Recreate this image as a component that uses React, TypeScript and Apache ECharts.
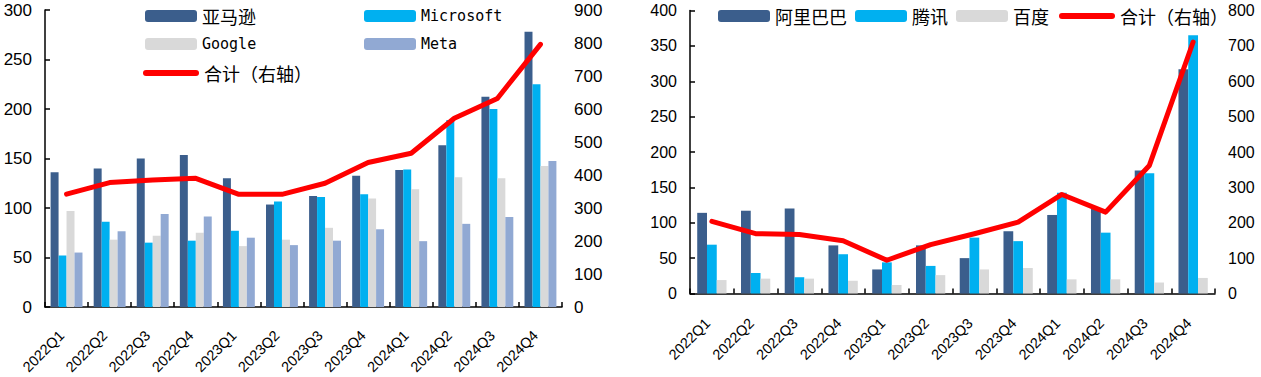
import React, { useEffect, useRef } from "react";
import * as echarts from "echarts";

const quarters = ["2022Q1", "2022Q2", "2022Q3", "2022Q4", "2023Q1", "2023Q2", "2023Q3", "2023Q4", "2024Q1", "2024Q2", "2024Q3", "2024Q4"];

const amazon = [136, 140, 150, 153.5, 130, 103.5, 112, 132.5, 138.5, 163.5, 212.5, 278];
const microsoft = [52, 86, 65, 67, 77, 106.5, 111, 114, 139, 189, 200, 225];
const google = [97, 68, 72, 75, 61.5, 68, 80, 109.5, 119, 131, 130, 142.5];
const meta = [55, 76.5, 94, 91.5, 70, 62.5, 67, 78.5, 66.5, 84, 91, 147.5];
const usTotal = [342, 377, 385, 390, 341.5, 341.5, 375, 438, 466, 572, 632, 796];

const alibaba = [114, 117, 120, 68, 34, 68, 50, 88, 111, 120, 174, 317];
const tencent = [69, 29, 23, 55.5, 44, 39, 79, 74, 142.5, 86, 170, 365];
const baidu = [19, 21, 21, 18, 12, 26, 34, 36, 20, 20, 15.5, 22];
const cnTotal = [204, 169, 167, 149, 94, 138, 169, 202, 280, 230, 362, 711];

const TOTAL = "合计（右轴）";
const C_DARK = "#3B5E8C";
const C_CYAN = "#00B0F0";
const C_GRAY = "#D9D9D9";
const C_META = "#91A9D3";
const C_RED = "#FF0000";

const AX = { color: "#000", width: 1.5 };
const LABEL_FONT = "'Liberation Sans', Arial, sans-serif";
const CJK_FONT = "'Noto Sans CJK SC', sans-serif";
const LINE_ICON = "path://M3,0L53,0A3,3 0 0 1 53,6L3,6A3,3 0 0 1 3,0Z";

function legendItem(name: string, left: number, centerY: number, latin: boolean, isLine: boolean) {
  const fontSize = latin ? 15 : 18;
  return {
    show: true,
    data: isLine ? [{ name, icon: LINE_ICON }] : [name],
    left,
    top: centerY - (latin ? 7.5 : 9),
    itemWidth: isLine ? 56 : 52,
    itemHeight: isLine ? 6 : 12,
    itemGap: 0,
    padding: 0,
    selectedMode: false,
    textStyle: {
      color: "#000",
      fontFamily: latin ? "'DejaVu Sans Mono', monospace" : CJK_FONT,
      fontSize,
    },
  };
}

export default function App() {
  const ref = useRef<HTMLDivElement>(null);
  useEffect(() => {
    if (!ref.current) return;
    const chart = echarts.init(ref.current, null, { renderer: "svg" });
    const xCommon = (gridIndex: number, margin: number, padRight: number) => ({
      type: "category",
      gridIndex,
      data: quarters,
      boundaryGap: true,
      axisLine: { show: true, lineStyle: AX },
      axisTick: { show: true, inside: true, length: 5, lineStyle: AX, alignWithLabel: false },
      axisLabel: {
        interval: 0,
        rotate: 45,
        margin,
        formatter: (v: string) => `{a|${v}}`,
        rich: {
          a: {
            padding: [0, padRight, 0, 0],
            color: "#000",
            fontSize: 14.5,
            fontFamily: LABEL_FONT,
          },
        },
      },
      splitLine: { show: false },
    });
    const yLeft = (gridIndex: number, max: number, interval: number, fontSize: number, margin: number) => ({
      type: "value",
      gridIndex,
      min: 0,
      max,
      interval,
      axisLine: { show: true, lineStyle: AX },
      axisTick: { show: true, inside: true, length: 5, lineStyle: AX },
      axisLabel: { color: "#000", fontSize, fontFamily: LABEL_FONT, margin },
      splitLine: { show: false },
    });
    const yRight = (gridIndex: number, max: number, interval: number, fontSize: number, margin: number) => ({
      type: "value",
      gridIndex,
      position: "right",
      min: 0,
      max,
      interval,
      axisLine: { show: false },
      axisTick: { show: false },
      axisLabel: { color: "#000", fontSize, fontFamily: LABEL_FONT, margin },
      splitLine: { show: false },
    });
    const bar = (name: string, data: number[], color: string, xi: number, yi: number, catGap: string) => ({
      name,
      type: "bar",
      xAxisIndex: xi,
      yAxisIndex: yi,
      data,
      itemStyle: { color },
      barGap: "0%",
      barCategoryGap: catGap,
    });
    const line = (data: number[], xi: number, yi: number) => ({
      name: TOTAL,
      type: "line",
      xAxisIndex: xi,
      yAxisIndex: yi,
      data,
      symbol: "none",
      showSymbol: false,
      z: 5,
      itemStyle: { color: C_RED },
      lineStyle: { color: C_RED, width: 5, cap: "round", join: "round" },
    });
    chart.setOption({
      animation: false,
      backgroundColor: "#fff",
      textStyle: { fontFamily: LABEL_FONT },
      grid: [
        { left: 45, right: 1261 - 562, top: 10, bottom: 377 - 307, containLabel: false, outerBoundsMode: "none" },
        { left: 690, right: 1261 - 1215, top: 10.5, bottom: 377 - 293.5, containLabel: false, outerBoundsMode: "none" },
      ],
      xAxis: [xCommon(0, 21, 7), xCommon(1, 23, 6)],
      yAxis: [
        yLeft(0, 300, 50, 17, 13),
        yRight(0, 900, 100, 17, 12),
        yLeft(1, 400, 50, 16, 13),
        yRight(1, 800, 100, 16, 13),
      ],
      legend: [
        legendItem("亚马逊", 145, 16, false, false),
        legendItem("Google", 145, 44, true, false),
        legendItem(TOTAL, 143, 73, false, true),
        legendItem("Microsoft", 364, 16, true, false),
        legendItem("Meta", 364, 44, true, false),
        {
          show: true,
          data: ["阿里巴巴", "腾讯", "百度"],
          left: 718,
          top: 7,
          orient: "horizontal",
          itemWidth: 52,
          itemHeight: 12,
          itemGap: 8,
          padding: 0,
          selectedMode: false,
          textStyle: { color: "#000", fontFamily: CJK_FONT, fontSize: 18 },
        },
        legendItem(TOTAL, 1059, 16, false, true),
      ],
      series: [
        bar("亚马逊", amazon, C_DARK, 0, 0, "26%"),
        bar("Microsoft", microsoft, C_CYAN, 0, 0, "26%"),
        bar("Google", google, C_GRAY, 0, 0, "26%"),
        bar("Meta", meta, C_META, 0, 0, "26%"),
        line(usTotal, 0, 1),
        bar("阿里巴巴", alibaba, C_DARK, 1, 2, "33%"),
        bar("腾讯", tencent, C_CYAN, 1, 2, "33%"),
        bar("百度", baidu, C_GRAY, 1, 2, "33%"),
        line(cnTotal, 1, 3),
      ],
    });
    return () => chart.dispose();
  }, []);
  return (
    <div
      ref={ref}
      style={{ position: "absolute", left: 0, top: 0, width: 1261, height: 377, background: "#fff" }}
    />
  );
}
